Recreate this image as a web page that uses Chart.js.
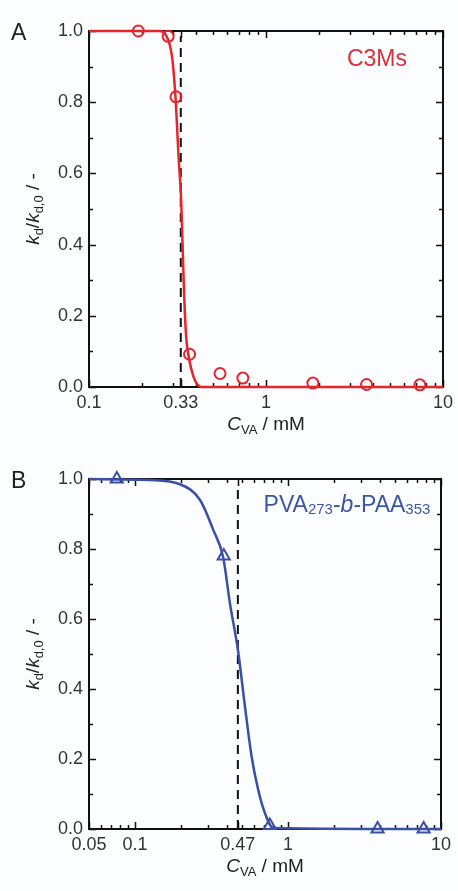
<!doctype html>
<html lang="en">
<head>
<meta charset="UTF-8" />
<title>kd/kd,0 vs CVA</title>
<script src="https://cdn.jsdelivr.net/npm/chart.js"></script>
<style>
    html, body { margin: 0; padding: 0; background: #fcfdff; }
    .panel { position: absolute; left: 0; width: 458px; }
    #panelA { top: 0; height: 446px; }
    #panelB { top: 446px; height: 445px; }
</style>
</head>
<body>
<div class="panel" id="panelA"><canvas id="chartA" width="458" height="446"></canvas></div>
<div class="panel" id="panelB"><canvas id="chartB" width="458" height="445"></canvas></div>
<script>
// panel A: C3Ms (open circles + fitted curve)
const a_cva = [0.19, 0.28, 0.31, 0.37, 0.55, 0.74, 1.84, 3.7, 7.4];
const a_kd = [1.0, 0.985, 0.815, 0.092, 0.038, 0.025, 0.011, 0.007, 0.006];
const a_fit_cva = [0.1, 0.25, 0.271, 0.295, 0.308, 0.321, 0.332, 0.343, 0.353, 0.369, 0.39, 0.41, 0.43, 10];
const a_fit_kd = [1.0, 1.0, 0.99, 0.925, 0.815, 0.643, 0.52, 0.291, 0.15, 0.075, 0.028, 0.007, 0.0, 0.0];
const a_cac = 0.33;
const a_xticks = [0.1, 0.33, 1, 10];
const a_xminor = [0.2, 0.3, 0.4, 0.5, 0.6, 0.7, 0.8, 0.9, 2, 3, 4, 5, 6, 7, 8, 9];

// panel B: PVA273-b-PAA353 (open triangles + fitted curve)
const b_cva = [0.076, 0.38, 0.76, 3.85, 7.7];
const b_kd = [1.0, 0.78, 0.01, 0.0, 0.0];
const b_fit_cva = [0.05, 0.125, 0.197, 0.266, 0.325, 0.377, 0.417, 0.471, 0.523, 0.578, 0.639, 0.707, 0.8, 10];
const b_fit_kd = [1.0, 0.997, 0.985, 0.94, 0.854, 0.776, 0.645, 0.51, 0.35, 0.207, 0.111, 0.045, 0.003, 0.0];
const b_cac = 0.47;
const b_xticks = [0.05, 0.1, 0.47, 1, 10];
const b_xminor = [0.06, 0.07, 0.08, 0.09, 0.2, 0.3, 0.4, 0.5, 0.6, 0.7, 0.8, 0.9, 2, 3, 4, 5, 6, 7, 8, 9];

const yticks = [0.0, 0.2, 0.4, 0.6, 0.8, 1.0];
const yminor = [0.1, 0.3, 0.5, 0.7, 0.9];

const FONT = "'Liberation Sans', Arial, sans-serif";
const RED = "#e4262c";
const BLUE = "#3a50a4";

/*** helpers ***/

function pts(xs, ys) {
    return xs.map((x, i) => ({ x: x, y: ys[i] }));
}

function partFont(p, size) {
    const s = p.sub ? Math.round(size * 0.66) : size;
    return (p.italic ? "italic " : "") + s + "px " + FONT;
}

function richWidth(ctx, parts, size) {
    let w = 0;
    parts.forEach((p) => {
        ctx.font = partFont(p, size);
        w += ctx.measureText(p.t).width;
    });
    return w;
}

// draws text made of italic / subscript parts, centred on x
function drawRich(ctx, parts, x, y, size, color, drop) {
    let cx = x - richWidth(ctx, parts, size) / 2;
    ctx.fillStyle = color;
    ctx.textBaseline = "alphabetic";
    ctx.textAlign = "left";
    parts.forEach((p) => {
        ctx.font = partFont(p, size);
        ctx.fillText(p.t, cx, p.sub ? y + size * drop : y);
        cx += ctx.measureText(p.t).width;
    });
}

const yTitle = [
    { t: "k", italic: true }, { t: "d", sub: true }, { t: "/" },
    { t: "k", italic: true }, { t: "d,0", sub: true }, { t: " / -" },
];
const xTitle = [{ t: "C", italic: true }, { t: "VA", sub: true }, { t: " / mM" }];

function framePlugin(cfg) {
    return {
        id: "frame" + cfg.letter,
        beforeDatasetsDraw(chart) {
            const { ctx, chartArea: a, scales } = chart;
            const x = scales.x, y = scales.y;
            ctx.save();
            ctx.strokeStyle = "#111";
            ctx.lineWidth = 1.5;
            const vt = (v, len) => {
                const px = Math.round(x.getPixelForValue(v)) + 0.5;
                ctx.beginPath();
                ctx.moveTo(px, a.bottom); ctx.lineTo(px, a.bottom - len);
                ctx.moveTo(px, a.top); ctx.lineTo(px, a.top + len);
                ctx.stroke();
            };
            const ht = (v, len) => {
                const py = Math.round(y.getPixelForValue(v)) + 0.5;
                ctx.beginPath();
                ctx.moveTo(a.left, py); ctx.lineTo(a.left + len, py);
                ctx.moveTo(a.right, py); ctx.lineTo(a.right - len, py);
                ctx.stroke();
            };
            cfg.xticks.forEach((v) => vt(v, 7));
            cfg.xminor.forEach((v) => vt(v, 4));
            yticks.forEach((v) => ht(v, 7));
            yminor.forEach((v) => ht(v, 4));
            ctx.lineWidth = 2;
            ctx.strokeRect(a.left, a.top, a.right - a.left, a.bottom - a.top);
            ctx.restore();
        },
        afterDraw(chart) {
            const { ctx, chartArea: a } = chart;
            ctx.save();
            // panel letter
            ctx.font = "23px " + FONT;
            ctx.fillStyle = "#222";
            ctx.textAlign = "left";
            ctx.textBaseline = "alphabetic";
            ctx.fillText(cfg.letter, 11, a.top + 9);
            // x title
            drawRich(ctx, xTitle, (a.left + a.right) / 2, a.bottom + 43, 19, "#222", 0.22);
            // y title
            ctx.translate(33, (a.top + a.bottom) / 2);
            ctx.rotate(-Math.PI / 2);
            drawRich(ctx, yTitle, 0, 6, 19, "#222", 0.22);
            ctx.restore();
            // series label
            ctx.save();
            drawRich(ctx, cfg.label, cfg.labelX, a.top + cfg.labelDY, cfg.labelSize, cfg.labelColor, 0.08);
            ctx.restore();
        },
    };
}

function makeChart(id, cfg) {
    const ctx = document.getElementById(id).getContext("2d");
    return new Chart(ctx, {
        type: "scatter",
        data: {
            datasets: [
                {
                    data: pts(cfg.cva, cfg.kd),
                    showLine: false,
                    pointStyle: cfg.pointStyle,
                    pointRadius: cfg.pointRadius,
                    pointBorderWidth: 2,
                    pointBorderColor: cfg.color,
                    pointBackgroundColor: "rgba(0,0,0,0)",
                    clip: false,
                },
                {
                    data: pts(cfg.fitX, cfg.fitY),
                    showLine: true,
                    borderColor: cfg.color,
                    borderWidth: 2.5,
                    pointRadius: 0,
                    cubicInterpolationMode: "monotone",
                    clip: false,
                },
                {
                    data: [{ x: cfg.cac, y: 0 }, { x: cfg.cac, y: 0.985 }],
                    showLine: true,
                    borderColor: "#111",
                    borderWidth: 2,
                    borderDash: [9, 6],
                    pointRadius: 0,
                },
            ],
        },
        options: {
            responsive: false,
            animation: false,
            devicePixelRatio: 1,
            layout: { padding: { left: 0, top: cfg.padTop, right: cfg.padRight, bottom: 0 } },
            plugins: { legend: { display: false }, tooltip: { enabled: false } },
            scales: {
                x: {
                    type: "logarithmic",
                    min: cfg.xmin,
                    max: 10,
                    grid: { display: false, drawTicks: false },
                    border: { display: false },
                    afterBuildTicks: (s) => { s.ticks = cfg.xticks.map((v) => ({ value: v })); },
                    afterFit: (s) => { s.height = cfg.xHeight; },
                    ticks: {
                        autoSkip: false,
                        maxRotation: 0,
                        padding: 5,
                        color: "#333",
                        font: { family: FONT, size: 18 },
                        callback: (v) => String(v),
                    },
                },
                y: {
                    min: 0,
                    max: 1,
                    grid: { display: false, drawTicks: false },
                    border: { display: false },
                    afterBuildTicks: (s) => { s.ticks = yticks.map((v) => ({ value: v })); },
                    afterFit: (s) => { s.width = 89; },
                    ticks: {
                        padding: 6,
                        color: "#333",
                        font: { family: FONT, size: 18 },
                        callback: (v) => Number(v).toFixed(1),
                    },
                },
            },
        },
        plugins: [framePlugin(cfg)],
    });
}

makeChart("chartA", {
    letter: "A",
    cva: a_cva, kd: a_kd, fitX: a_fit_cva, fitY: a_fit_kd, cac: a_cac,
    xticks: a_xticks, xminor: a_xminor, xmin: 0.1,
    color: RED, pointStyle: "circle", pointRadius: 5.5,
    padTop: 31, padRight: 10, xHeight: 59,
    label: [{ t: "C3Ms" }], labelX: 377, labelDY: 35, labelSize: 23, labelColor: "#d9303a",
});

makeChart("chartB", {
    letter: "B",
    cva: b_cva, kd: b_kd, fitX: b_fit_cva, fitY: b_fit_kd, cac: b_cac,
    xticks: b_xticks, xminor: b_xminor, xmin: 0.05,
    color: BLUE, pointStyle: "triangle", pointRadius: 7,
    padTop: 33, padRight: 17, xHeight: 62,
    label: [
        { t: "PVA" }, { t: "273", sub: true }, { t: "-" }, { t: "b", italic: true },
        { t: "-" }, { t: "PAA" }, { t: "353", sub: true },
    ],
    labelX: 347, labelDY: 33, labelSize: 23, labelColor: "#3d57a5",
});
</script>
</body>
</html>
